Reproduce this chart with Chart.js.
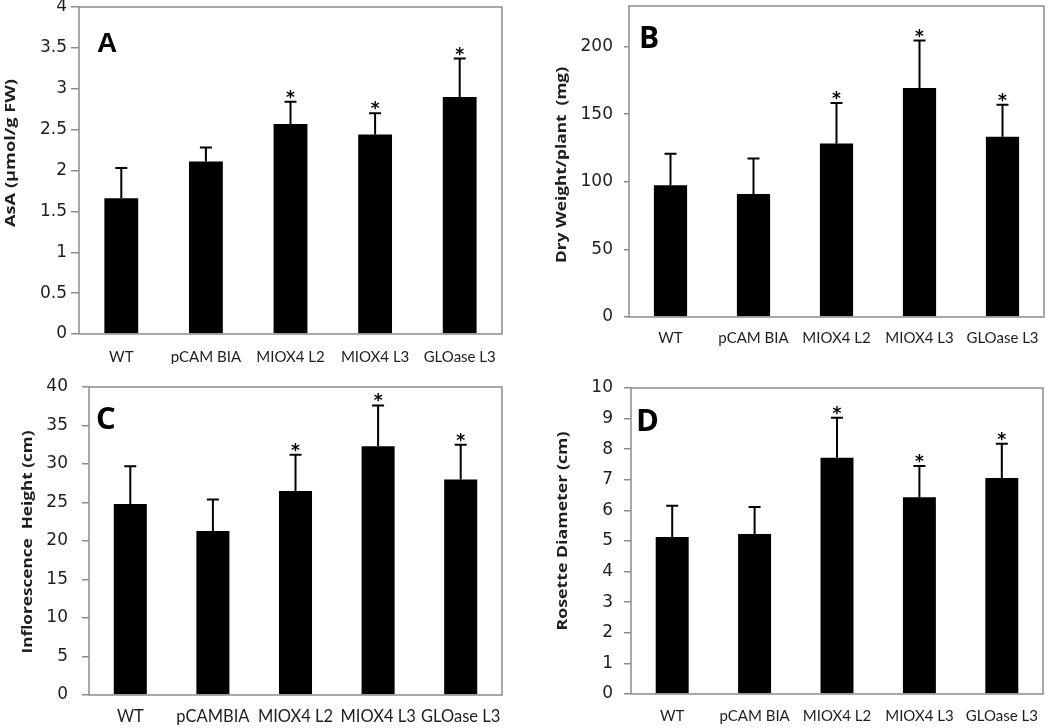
<!DOCTYPE html>
<html><head><meta charset="utf-8">
<script src="https://cdn.jsdelivr.net/npm/chart.js@4.4.1/dist/chart.umd.min.js"></script>
<style>
html,body{margin:0;padding:0;background:#fff;}
#wrap{position:relative;width:1050px;height:728px;overflow:hidden;background:#fff;}
.p{position:absolute;width:525px;height:364px;}
canvas{display:block;}
</style></head><body>
<div id="wrap">
<div class="p" style="left:0;top:0"><canvas id="cA" width="525" height="364"></canvas></div>
<div class="p" style="left:525px;top:0"><canvas id="cB" width="525" height="364"></canvas></div>
<div class="p" style="left:0;top:364px"><canvas id="cC" width="525" height="364"></canvas></div>
<div class="p" style="left:525px;top:364px"><canvas id="cD" width="525" height="364"></canvas></div>
</div>
<script>
// ---- data ----
const categoriesABD = ['WT', 'pCAM BIA', 'MIOX4 L2', 'MIOX4 L3', 'GLOase L3'];
const categoriesC = ['WT', 'pCAMBIA', 'MIOX4 L2', 'MIOX4 L3', 'GLOase L3'];

const asaMean = [1.66, 2.11, 2.57, 2.44, 2.90];
const asaSD   = [0.37, 0.17, 0.27, 0.26, 0.47];
const asaSig  = [false, false, true, true, true];

const dryMean = [97.5, 90.9, 128.4, 169.4, 133.3];
const drySD   = [23.2, 26.4, 29.9, 35.0, 23.7];
const drySig  = [false, false, true, true, true];

const inflMean = [24.8, 21.3, 26.5, 32.3, 28.0];
const inflSD   = [4.9, 4.1, 4.7, 5.3, 4.5];
const inflSig  = [false, false, true, true, true];

const rosMean = [5.13, 5.23, 7.72, 6.43, 7.06];
const rosSD   = [1.02, 0.88, 1.31, 1.02, 1.12];
const rosSig  = [false, false, true, true, true];

const yAxisA = {max: 4, step: 0.5};
const yAxisB = {max: 230, step: 50};
const yAxisC = {max: 40, step: 5};
const yAxisD = {max: 10, step: 1};

// ---- layout / style ----
const FRAME = '#8c8c8c';
const TXT = '#1e1e1e';

const panels = [
  {id:'cA', cats:categoriesABD, mean:asaMean, sd:asaSD, sig:asaSig, y:yAxisA,
   area:{l:79,t:7,r:502,b:334}, tickLen:8, tickPad:4, xPad:14, xFont:15,
   title:{text:'AsA (\u00b5mol/g FW)', x:11, y:153, len:148},
   letter:{text:'A', x:97, y:52, font:'bold 28px "Liberation Sans"'}},
  {id:'cB', cats:categoriesABD, mean:dryMean, sd:drySD, sig:drySig, y:yAxisB,
   area:{l:104,t:6,r:519,b:317}, tickLen:5, tickPad:11, xPad:12, xFont:15,
   title:{text:'Dry Weight/plant  (mg)', x:37, y:165, len:196},
   letter:{text:'B', x:114, y:48, font:'bold 30px "Open Sans"'}},
  {id:'cC', cats:categoriesC, mean:inflMean, sd:inflSD, sig:inflSig, y:yAxisC,
   area:{l:89,t:23,r:502,b:331}, tickLen:7, tickPad:14, xPad:12, xFont:16.5,
   title:{text:'Inflorescence  Height (cm)', x:28, y:178, len:223},
   letter:{text:'C', x:96, y:65, font:'bold 31px "Open Sans"'}},
  {id:'cD', cats:categoriesABD, mean:rosMean, sd:rosSD, sig:rosSig, y:yAxisD,
   area:{l:106,t:24,r:518,b:330}, tickLen:7, tickPad:11, xPad:13, xFont:15,
   title:{text:'Rosette Diameter (cm)', x:38, y:167, len:199},
   letter:{text:'D', x:111, y:67, font:'bold 31px "Open Sans"'}}
];

const decor = {
  id: 'decor',
  afterDatasetsDraw(chart, args, opts) {
    const p = opts.panel;
    const ctx = chart.ctx;
    const xs = chart.scales.x, ys = chart.scales.y;
    const ca = chart.chartArea;
    ctx.save();
    // error bars
    ctx.strokeStyle = '#000';
    ctx.lineWidth = 2;
    ctx.fillStyle = '#000';
    p.mean.forEach((m, i) => {
      const x = xs.getPixelForValue(i);
      const y0 = ys.getPixelForValue(m);
      const y1 = ys.getPixelForValue(m + p.sd[i]);
      ctx.beginPath();
      ctx.moveTo(x, y0); ctx.lineTo(x, y1);
      ctx.moveTo(x - 6, y1); ctx.lineTo(x + 6, y1);
      ctx.stroke();
      if (p.sig[i]) {
        ctx.font = 'bold 17px "DejaVu Sans"';
        ctx.textAlign = 'center';
        ctx.textBaseline = 'alphabetic';
        const mt = ctx.measureText('*');
        const bottom = y1 - 3;
        ctx.fillText('*', x, bottom - mt.actualBoundingBoxDescent);
      }
    });
    // frame
    ctx.strokeStyle = FRAME;
    ctx.lineWidth = 1.5;
    ctx.strokeRect(ca.left, ca.top, ca.right - ca.left, ca.bottom - ca.top);
    // panel letter
    ctx.fillStyle = '#000';
    ctx.font = p.letter.font;
    ctx.textAlign = 'left';
    ctx.textBaseline = 'alphabetic';
    ctx.fillText(p.letter.text, p.letter.x, p.letter.y);
    // y title (stretched to match length)
    ctx.fillStyle = TXT;
    ctx.font = 'bold 14px "Open Sans"';
    const w = ctx.measureText(p.title.text).width;
    ctx.translate(p.title.x, p.title.y);
    ctx.rotate(-Math.PI / 2);
    ctx.scale(p.title.len / w, 1);
    ctx.textAlign = 'center';
    ctx.textBaseline = 'middle';
    ctx.fillText(p.title.text, 0, 0);
    ctx.restore();
  }
};

panels.forEach(p => {
  const a = p.area;
  new Chart(document.getElementById(p.id), {
    type: 'bar',
    data: {
      labels: p.cats,
      datasets: [{
        data: p.mean,
        backgroundColor: '#000',
        borderWidth: 0,
        barPercentage: 0.4,
        categoryPercentage: 1.0
      }]
    },
    options: {
      responsive: false,
      animation: false,
      devicePixelRatio: 1,
      layout: {padding: {left: 0, top: a.t, right: 525 - a.r, bottom: 0}},
      plugins: {legend: {display: false}, tooltip: {enabled: false}, decor: {panel: p}},
      scales: {
        x: {
          grid: {display: false, drawTicks: false},
          border: {display: false},
          ticks: {color: TXT, font: {family: 'Lato', size: p.xFont}, padding: p.xPad, maxRotation: 0, autoSkip: false},
          afterFit(s) { s.height = 364 - a.b; s.paddingLeft = 0; s.paddingRight = 0; }
        },
        y: {
          min: 0, max: p.y.max,
          grid: {drawOnChartArea: false, drawTicks: true, tickLength: p.tickLen, color: FRAME, lineWidth: 1.5},
          border: {display: false},
          ticks: {stepSize: p.y.step, includeBounds: false, color: TXT, font: {family: 'DejaVu Sans', size: 17}, padding: p.tickPad,
                  callback: v => String(Number(v.toFixed(2)))},
          afterFit(s) { s.width = a.l; s.paddingTop = 0; s.paddingBottom = 0; }
        }
      }
    },
    plugins: [decor]
  });
});
</script>
</body></html>
